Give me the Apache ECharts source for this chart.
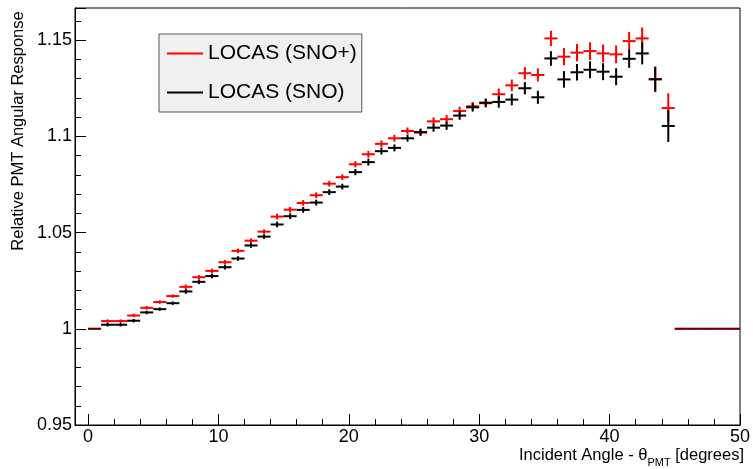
<!DOCTYPE html>
<html><head><meta charset="utf-8">
<script src="https://cdn.jsdelivr.net/npm/echarts@6/dist/echarts.min.js"></script>
<style>html,body{margin:0;padding:0;background:#fff}#c{width:753px;height:469px}</style>
</head><body><div id="c"></div>
<script>
// Bin centres of the incident angle histogram (degrees)
const binCenters = [0.5,1.5,2.5,3.5,4.5,5.5,6.5,7.5,8.5,9.5,
  10.5,11.5,12.5,13.5,14.5,15.5,16.5,17.5,18.5,19.5,
  20.5,21.5,22.5,23.5,24.5,25.5,26.5,27.5,28.5,29.5,
  30.5,31.5,32.5,33.5,34.5,35.5,36.5,37.5,38.5,39.5,
  40.5,41.5,42.5,43.5,44.5,45.5,46.5,47.5,48.5,49.5];
const binHalfWidth = 0.5;

// LOCAS (SNO+)
const snoPlus = [1.0000,1.0040,1.0040,1.0069,1.0109,1.0139,1.0170,1.0218,1.0268,1.0301,
  1.0346,1.0405,1.0458,1.0505,1.0583,1.0619,1.0654,1.0694,1.0754,1.0788,
  1.0855,1.0907,1.0961,1.0990,1.1028,1.1020,1.1078,1.1089,1.1132,1.1156,
  1.1172,1.1219,1.1265,1.1328,1.1319,1.1509,1.1414,1.1435,1.1443,1.1431,
  1.1426,1.1495,1.1509,1.1298,1.1147,1.0000,1.0000,1.0000,1.0000,1.0000];
const snoPlusErr = [0,0.0009,0.0009,0.0009,0.0009,0.0009,0.0009,0.0012,0.0012,0.0012,
  0.0012,0.0012,0.0012,0.0012,0.0015,0.0015,0.0015,0.0015,0.0015,0.0015,
  0.0016,0.0018,0.0018,0.0018,0.0018,0.0018,0.0021,0.0022,0.0022,0.0022,
  0.0022,0.0030,0.0030,0.0032,0.0034,0.0040,0.0045,0.0045,0.0046,0.0046,
  0.0046,0.0048,0.0057,0.0065,0.0077,0,0,0,0,0];

// LOCAS (SNO)
const sno = [1.0000,1.0021,1.0021,1.0042,1.0085,1.0102,1.0133,1.0194,1.0244,1.0274,
  1.0320,1.0365,1.0433,1.0479,1.0542,1.0585,1.0618,1.0656,1.0710,1.0739,
  1.0814,1.0866,1.0923,1.0940,1.0990,1.1022,1.1045,1.1056,1.1108,1.1151,
  1.1175,1.1179,1.1191,1.1250,1.1203,1.1405,1.1296,1.1333,1.1346,1.1336,
  1.1310,1.1403,1.1431,1.1296,1.1054,1.0000,1.0000,1.0000,1.0000,1.0000];
const snoErr = [0,0.0009,0.0009,0.0009,0.0009,0.0009,0.0009,0.0012,0.0012,0.0012,
  0.0012,0.0012,0.0012,0.0012,0.0015,0.0015,0.0015,0.0015,0.0015,0.0015,
  0.0016,0.0018,0.0018,0.0018,0.0018,0.0018,0.0021,0.0022,0.0022,0.0022,
  0.0022,0.0030,0.0030,0.0032,0.0034,0.0038,0.0043,0.0043,0.0044,0.0044,
  0.0044,0.0047,0.0057,0.0065,0.0083,0,0,0,0,0];

const xMajorTicks = [0,10,20,30,40,50];
const xMinorTicks = [2,4,6,8,12,14,16,18,22,24,26,28,32,34,36,38,42,44,46,48];
const yTickLabels = [0.95,1,1.05,1.1,1.15];

const FONT = 'Liberation Sans';

function seriesData(vals, errs) {
  return binCenters.map((x, i) => [x, vals[i], errs[i]]);
}
function makeRender(color, flatColor) {
  return function (params, api) {
    const x = api.value(0), y = api.value(1), e = api.value(2);
    const pL = api.coord([x - binHalfWidth, y]);
    const pR = api.coord([x + binHalfWidth, y]);
    const children = [{
      type: 'line',
      shape: { x1: pL[0], y1: pL[1], x2: pR[0], y2: pR[1] },
      style: { stroke: e > 0 ? color : flatColor, lineWidth: 2 }
    }];
    if (e > 0) {
      const pT = api.coord([x, y + e]);
      const pB = api.coord([x, y - e]);
      children.push({
        type: 'line',
        shape: { x1: pT[0], y1: pT[1], x2: pB[0], y2: pB[1] },
        style: { stroke: color, lineWidth: 2 }
      });
    }
    return { type: 'group', children };
  };
}

const chart = echarts.init(document.getElementById('c'), null, { renderer: 'canvas' });
chart.setOption({
  animation: false,
  backgroundColor: '#fff',
  textStyle: { fontFamily: FONT },
  grid: { left: 75, top: 8, width: 669, height: 417, show: true, borderColor: '#000', borderWidth: 1, backgroundColor: 'transparent' },
  xAxis: [{
    type: 'value', min: -1, max: 50, position: 'bottom',
    axisLine: { show: true, onZero: false, lineStyle: { color: '#000', width: 1 } },
    axisTick: { show: true, inside: true, length: 11, customValues: xMajorTicks, lineStyle: { color: '#000' } },
    axisLabel: { show: true, customValues: xMajorTicks, fontSize: 18, color: '#000', fontFamily: FONT, margin: 3 },
    splitLine: { show: false }
  }, {
    type: 'value', min: -1, max: 50, position: 'bottom',
    axisLine: { show: false, onZero: false },
    axisTick: { show: true, inside: true, length: 6, customValues: xMinorTicks, lineStyle: { color: '#000' } },
    axisLabel: { show: false },
    splitLine: { show: false }
  }],
  yAxis: {
    type: 'value', min: 0.95, max: 1.1667, interval: 0.05,
    axisLine: { show: true, onZero: false, lineStyle: { color: '#000', width: 1 } },
    axisTick: { show: true, inside: true, length: 11, lineStyle: { color: '#000' } },
    minorTick: { show: true, splitNumber: 5, length: 6, lineStyle: { color: '#000' } },
    axisLabel: { show: true, customValues: yTickLabels, fontSize: 18, color: '#000', fontFamily: FONT, margin: 3 },
    splitLine: { show: false }
  },
  legend: {
    orient: 'vertical', left: 159, top: 34,
    padding: [9, 5, 9, 8], itemGap: 18, itemWidth: 36, itemHeight: 2, itemTextGap: 10,
    backgroundColor: '#f0f0f0', borderColor: '#555', borderWidth: 1, borderRadius: 0,
    textStyle: { fontFamily: FONT, fontSize: 21, color: '#000' },
    data: [
      { name: 'LOCAS (SNO+)', icon: 'rect', itemStyle: { color: '#ff0000' } },
      { name: 'LOCAS (SNO)', icon: 'rect', itemStyle: { color: '#000000' } }
    ]
  },
  graphic: [{
    type: 'text', left: 'auto', right: 9, top: 447,
    style: {
      text: '{n|Incident Angle - θ}{s|PMT}{n| [degrees]}',
      rich: {
        n: { fontFamily: FONT, fontSize: 16.5, fill: '#000', verticalAlign: 'bottom', lineHeight: 18 },
        s: { fontFamily: FONT, fontSize: 11, fill: '#000', verticalAlign: 'bottom', lineHeight: 14, padding: [0, 0, -4, 0] }
      }
    }
  }, {
    type: 'text', x: 18, y: 131, rotation: Math.PI / 2,
    style: {
      text: 'Relative PMT Angular Response', fontFamily: FONT, fontSize: 16.5, fill: '#000',
      textAlign: 'center', textVerticalAlign: 'middle'
    }
  }],
  series: [{
    name: 'LOCAS (SNO+)', type: 'custom', xAxisIndex: 0, yAxisIndex: 0,
    itemStyle: { color: '#ff0000' },
    renderItem: makeRender('#ff0000', '#ff0000'),
    encode: { x: 0, y: 1 },
    data: seriesData(snoPlus, snoPlusErr), z: 2
  }, {
    name: 'LOCAS (SNO)', type: 'custom', xAxisIndex: 0, yAxisIndex: 0,
    itemStyle: { color: '#000000' },
    renderItem: makeRender('#000000', 'rgba(0,0,0,0.6)'),
    encode: { x: 0, y: 1 },
    data: seriesData(sno, snoErr), z: 3
  }]
});
</script>
</body></html>
